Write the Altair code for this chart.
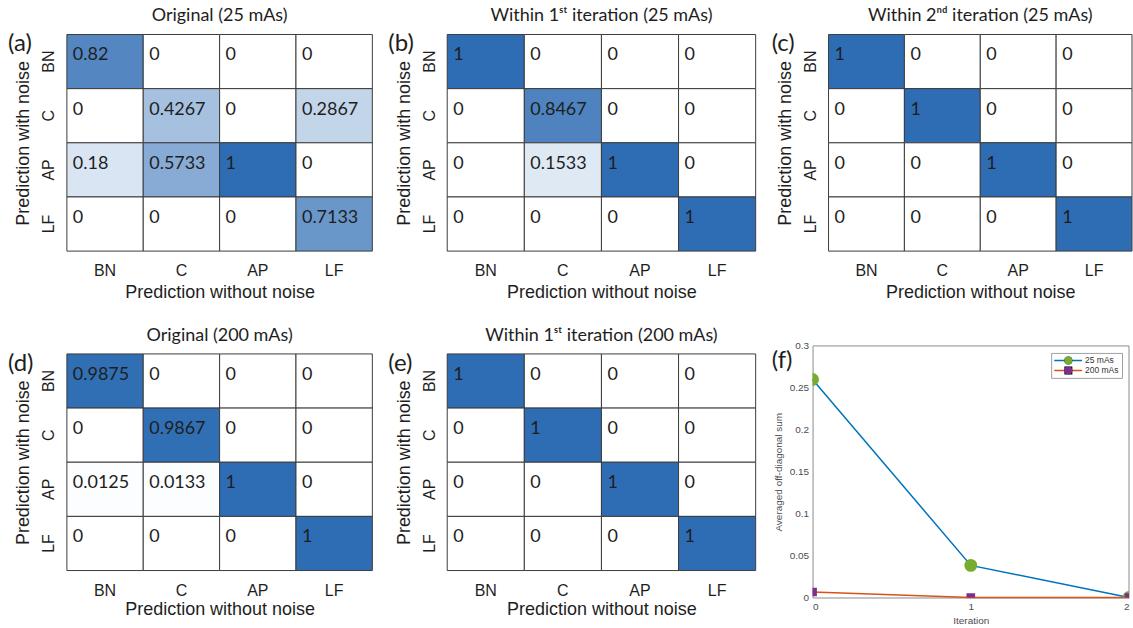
import altair as alt
import pandas as pd

# ---------------- data ----------------
CATS = ["BN", "C", "AP", "LF"]

# rows: Prediction with noise (BN, C, AP, LF); columns: Prediction without noise
MAT_A = [[0.82, 0, 0, 0],
         [0, 0.4267, 0, 0.2867],
         [0.18, 0.5733, 1, 0],
         [0, 0, 0, 0.7133]]
MAT_B = [[1, 0, 0, 0],
         [0, 0.8467, 0, 0],
         [0, 0.1533, 1, 0],
         [0, 0, 0, 1]]
MAT_C = [[1, 0, 0, 0],
         [0, 1, 0, 0],
         [0, 0, 1, 0],
         [0, 0, 0, 1]]
MAT_D = [[0.9875, 0, 0, 0],
         [0, 0.9867, 0, 0],
         [0.0125, 0.0133, 1, 0],
         [0, 0, 0, 1]]
MAT_E = [[1, 0, 0, 0],
         [0, 1, 0, 0],
         [0, 0, 1, 0],
         [0, 0, 0, 1]]

TITLES = ["Original (25 mAs)",
          "Within 1\u02e2\u1d57 iteration (25 mAs)",
          "Within 2\u207f\u1d48 iteration (25 mAs)",
          "Original (200 mAs)",
          "Within 1\u02e2\u1d57 iteration (200 mAs)"]
PANEL_LABELS = ["(a)", "(b)", "(c)", "(d)", "(e)", "(f)"]

ITER = [0, 1, 2]
SERIES = ["25 mAs", "200 mAs"]
OFFDIAG_25 = [0.26, 0.0383, 0.0]
OFFDIAG_200 = [0.0065, 0.0, 0.0]
Y_TICKS = [0, 0.05, 0.1, 0.15, 0.2, 0.25, 0.3]
X_TICKS = [0, 1, 2]
X_DOMAIN = [0, 2]
Y_DOMAIN = [0, 0.3]

# ---------------- style ----------------
TF = "Lato"
AXF = "Liberation Sans"
DARK = "#1e1e1e"
BLUE_CELL = "#2e6db4"
GRID = "#3c3c3c"


def heat(mat, title, label, width, label_dx, row2):
    recs = []
    for i, r in enumerate(CATS):
        for j, c in enumerate(CATS):
            v = mat[i][j]
            recs.append({"row": r, "col": c, "v": v, "txt": f"{v:g}"})
    df = pd.DataFrame(recs)

    xaxis = alt.Axis(title="Prediction without noise", labelAngle=0, ticks=False, tickSize=0,
                     domain=False, grid=False, labelFont=AXF, labelFontSize=16, labelColor=DARK,
                     labelPadding=12 if row2 else 11, titleFont=AXF, titleFontSize=18,
                     titleFontWeight="normal", titleColor=DARK, titlePadding=2 if row2 else 5)
    yaxis = alt.Axis(title="Prediction with noise", labelAngle=-90, labelAlign="center",
                     labelBaseline="bottom", ticks=False, tickSize=0, domain=False, grid=False,
                     labelFont=AXF, labelFontSize=16, labelColor=DARK, labelPadding=10,
                     titleFont=AXF, titleFontSize=18, titleFontWeight="normal",
                     titleColor=DARK, titlePadding=8)
    sc = alt.Scale(paddingInner=0, paddingOuter=0)

    rect = alt.Chart(df).mark_rect(stroke=GRID, strokeWidth=1).encode(
        x=alt.X("col:N", sort=CATS, scale=sc, axis=xaxis),
        y=alt.Y("row:N", sort=CATS, scale=sc, axis=yaxis),
        color=alt.Color("v:Q", scale=alt.Scale(domain=[0, 1], range=["#ffffff", BLUE_CELL],
                                                interpolate="rgb"),
                        legend=None),
    )
    txt = alt.Chart(df).mark_text(align="left", baseline="alphabetic", dx=6, dy=26,
                                  font=TF, fontSize=18, color=DARK).encode(
        x=alt.X("col:N", sort=CATS, scale=sc, axis=xaxis, bandPosition=0),
        y=alt.Y("row:N", sort=CATS, scale=sc, axis=yaxis, bandPosition=0),
        text="txt:N",
    )
    lab = alt.Chart(pd.DataFrame({"t": [label]})).mark_text(
        align="left", baseline="middle", font=TF, fontSize=24, color=DARK).encode(
        text="t:N", x=alt.value(-label_dx), y=alt.value(10))
    ttl = alt.Chart(pd.DataFrame({"t": [title]})).mark_text(
        align="center", baseline="alphabetic", font=TF, fontSize=18, color=DARK).encode(
        text="t:N", x=alt.value(width / 2), y=alt.value(-13 if row2 else -14))

    return alt.layer(rect, txt, lab, ttl).properties(
        width=width, height=217,
        view=alt.ViewBackground(stroke=None),
    )


# ---------------- panel (f) ----------------
recs = []
for s, vals in zip(SERIES, [OFFDIAG_25, OFFDIAG_200]):
    for it, v in zip(ITER, vals):
        recs.append({"iter": it, "val": v, "series": s})
df_f = pd.DataFrame(recs)

AX_GRAY = "#8c8c8c"
LBL_GRAY = "#4d4d4d"
F_W, F_H, F_UP = 317, 244, 8   # plot box reaches F_UP px above the row's top edge
xax_f = alt.Axis(title="Iteration", values=X_TICKS, format="~g", ticks=False, tickSize=0,
                 grid=False, domainColor=AX_GRAY, labelFont=AXF, labelFontSize=10,
                 labelColor=LBL_GRAY, labelPadding=4, labelOverlap=False, titleFont=AXF,
                 titleFontSize=10, titleFontWeight="normal", titleColor=LBL_GRAY,
                 titlePadding=4)
yax_f = alt.Axis(title="Averaged off-diagonal sum", values=Y_TICKS, format="~g", ticks=False,
                 tickSize=0, grid=False, domainColor=AX_GRAY, labelFont=AXF, labelFontSize=10,
                 labelColor=LBL_GRAY, labelPadding=4, labelOverlap=False, titleFont=AXF,
                 titleFontSize=10, titleFontWeight="normal", titleColor=LBL_GRAY,
                 titlePadding=6)
xs = alt.Scale(domain=X_DOMAIN, nice=False)
ys = alt.Scale(domain=Y_DOMAIN, nice=False, range=[F_H, -F_UP])

LEG_X, LEG_Y = 239, 7 - F_UP
leg_line = alt.Legend(orient="none", legendX=LEG_X, legendY=LEG_Y, title=None,
                      symbolType="M-2.8,0L2.8,0", symbolSize=100, symbolStrokeWidth=1.5,
                      labelFont=AXF, labelFontSize=8.5, labelColor="#333333",
                      strokeColor="#a0a0a0", padding=3, clipHeight=9,
                      rowPadding=1, symbolOffset=8, labelOffset=11)
leg_mark = alt.Legend(orient="none", legendX=LEG_X, legendY=LEG_Y, title=None,
                      symbolSize=64, symbolStrokeWidth=0, labelFont=AXF, labelFontSize=8.5,
                      labelColor="#333333", labelOpacity=0, padding=3, clipHeight=9,
                      rowPadding=1, symbolOffset=10, labelOffset=13)

lines = alt.Chart(df_f).mark_line(strokeWidth=1.5).encode(
    x=alt.X("iter:Q", scale=xs, axis=xax_f),
    y=alt.Y("val:Q", scale=ys, axis=yax_f),
    stroke=alt.Stroke("series:N", sort=SERIES,
                      scale=alt.Scale(domain=SERIES, range=["#0072bd", "#d95319"]),
                      legend=leg_line),
)
# marker scales use a data-driven domain (field "marker") so their legend stays separate
points = alt.Chart(df_f).transform_calculate(marker="datum.series").mark_point(
    filled=True, opacity=1, clip=True).encode(
    x=alt.X("iter:Q", scale=xs, axis=xax_f),
    y=alt.Y("val:Q", scale=ys, axis=yax_f),
    fill=alt.Fill("marker:N", sort=SERIES, scale=alt.Scale(range=["#77ac30", "#7e2f8e"]),
                  legend=leg_mark),
    shape=alt.Shape("marker:N", sort=SERIES, scale=alt.Scale(range=["circle", "square"]),
                    legend=leg_mark),
    size=alt.Size("marker:N", sort=SERIES, scale=alt.Scale(range=[165, 75]), legend=None),
)
# top and right edges of the MATLAB-style box
box_top = alt.Chart(pd.DataFrame({"k": [0]})).mark_rule(color=AX_GRAY, strokeWidth=1).encode(
    x=alt.X(datum=X_DOMAIN[0], type="quantitative", scale=xs, axis=xax_f),
    x2=alt.X2(datum=X_DOMAIN[1]),
    y=alt.Y(datum=Y_DOMAIN[1], type="quantitative", scale=ys, axis=yax_f),
)
box_right = alt.Chart(pd.DataFrame({"k": [0]})).mark_rule(color=AX_GRAY, strokeWidth=1).encode(
    x=alt.X(datum=X_DOMAIN[1], type="quantitative", scale=xs, axis=xax_f),
    y=alt.Y(datum=Y_DOMAIN[0], type="quantitative", scale=ys, axis=yax_f),
    y2=alt.Y2(datum=Y_DOMAIN[1]),
)
lab_f = alt.Chart(pd.DataFrame({"t": [PANEL_LABELS[5]]})).mark_text(
    align="left", baseline="middle", font=TF, fontSize=24, color=DARK).encode(
    text="t:N", x=alt.value(-41), y=alt.value(15 - F_UP))

panel_f = alt.layer(box_top, box_right, lines, points, lab_f).properties(
    width=F_W, height=F_H,
    view=alt.ViewBackground(stroke=None),
)

# ---------------- layout ----------------
pa = heat(MAT_A, TITLES[0], PANEL_LABELS[0], 306, 59, False)
pb = heat(MAT_B, TITLES[1], PANEL_LABELS[1], 309, 59, False)
pc = heat(MAT_C, TITLES[2], PANEL_LABELS[2], 304, 57, False)
pd_ = heat(MAT_D, TITLES[3], PANEL_LABELS[3], 306, 59, True)
pe = heat(MAT_E, TITLES[4], PANEL_LABELS[4], 309, 59, True)

IND = dict(stroke="independent", fill="independent", shape="independent", size="independent")
row1 = alt.hconcat(pa, pb, pc, spacing=15).resolve_legend(**IND)
row2 = alt.hconcat(pd_, pe, panel_f, spacing=15).resolve_legend(**IND)

chart = alt.vconcat(row1, row2, spacing=26).resolve_legend(**IND).properties(
    padding={"left": 8, "top": 6, "right": 0, "bottom": 0},
    background="white",
)

chart.save("out.html", embed_options={"renderer": "svg", "actions": False})
